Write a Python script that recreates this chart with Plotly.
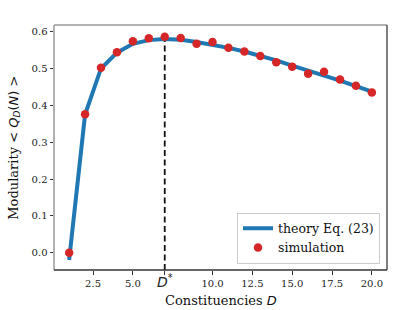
import plotly.graph_objects as go

D = list(range(1, 21))
theory = [-0.02, 0.375, 0.50, 0.543, 0.567, 0.577, 0.580, 0.578, 0.572, 0.565,
          0.556, 0.546, 0.535, 0.522, 0.508, 0.495, 0.481, 0.467, 0.452, 0.437]
simulation = [0.0, 0.376, 0.502, 0.544, 0.574, 0.582, 0.586, 0.583, 0.567, 0.572,
              0.556, 0.546, 0.534, 0.517, 0.505, 0.486, 0.491, 0.470, 0.453, 0.435]
D_star = 7
D_star_peak = 0.582
xtick_vals = [2.5, 5.0, D_star, 10.0, 12.5, 15.0, 17.5, 20.0]
xtick_text = ["2.5", "5.0",
              '<span style="font-family:DejaVu Sans;font-size:14px"><i>D</i><sup>*</sup></span>',
              "10.0", "12.5", "15.0", "17.5", "20.0"]
ytick_vals = [0.0, 0.1, 0.2, 0.3, 0.4, 0.5, 0.6]

serif = "DejaVu Serif"
y_range = [-0.047, 0.618]

fig = go.Figure()
fig.add_trace(go.Scatter(x=D, y=theory, mode="lines", name="theory Eq. (23)",
                         line=dict(color="#1f77b4", width=4)))
fig.add_trace(go.Scatter(x=D, y=simulation, mode="markers", name="simulation",
                         marker=dict(color="#d62728", size=8.5)))

fig.add_shape(type="line", xref="x", yref="y", x0=D_star, x1=D_star,
              y0=y_range[0], y1=D_star_peak,
              line=dict(color="#111111", width=1.8, dash="6px,3.5px"), layer="below")

# spines
fig.add_shape(type="line", xref="paper", yref="paper", x0=0, x1=0, y0=0, y1=1,
              line=dict(color="#999999", width=1.5))
fig.add_shape(type="line", xref="paper", yref="paper", x0=0, x1=1, y0=1, y1=1,
              line=dict(color="#999999", width=1.5))
fig.add_shape(type="line", xref="paper", yref="paper", x0=1, x1=1, y0=0, y1=1,
              line=dict(color="#555555", width=1.5))
fig.add_shape(type="line", xref="paper", yref="paper", x0=0, x1=1, y0=0, y1=0,
              line=dict(color="#333333", width=1.5))

fig.add_annotation(xref="paper", yref="paper", x=0.5, y=-0.085, yanchor="top",
                   text='Constituencies <span style="font-family:DejaVu Sans"><i>D</i></span>',
                   showarrow=False, font=dict(family=serif, size=13, color="#111111"))
fig.add_annotation(xref="paper", yref="paper", x=-0.088, xanchor="right", y=0.5,
                   textangle=-90,
                   text='Modularity <span style="font-family:DejaVu Sans">&lt; <i>Q</i><sub><i>D</i></sub>(<i>N</i>) &gt;</span>',
                   showarrow=False, font=dict(family=serif, size=13, color="#111111"))

fig.update_layout(
    width=416, height=310,
    margin=dict(l=54, r=29, t=25, b=40),
    paper_bgcolor="white", plot_bgcolor="white",
    showlegend=True,
    legend=dict(x=0.979, y=0.026, xanchor="right", yanchor="bottom",
                bgcolor="white", bordercolor="#cccccc", borderwidth=1,
                font=dict(family=serif, size=12.5, color="#111111"),
                itemwidth=30, tracegroupgap=0),
    xaxis=dict(range=[0.05, 20.95], tickvals=xtick_vals, ticktext=xtick_text,
               showgrid=False, zeroline=False, showline=False,
               ticks="outside", ticklen=3.5, tickcolor="#333333",
               tickfont=dict(family=serif, size=10, color="#222222")),
    yaxis=dict(range=y_range, tickvals=ytick_vals, tickformat=".1f",
               showgrid=False, zeroline=False, showline=False,
               ticks="outside", ticklen=3.5, tickcolor="#333333",
               tickfont=dict(family=serif, size=10, color="#222222")),
)

fig.write_html("out.html", config={"displayModeBar": False},
               post_script="document.body.style.margin='0';document.body.style.padding='0';document.body.style.overflow='hidden';")
